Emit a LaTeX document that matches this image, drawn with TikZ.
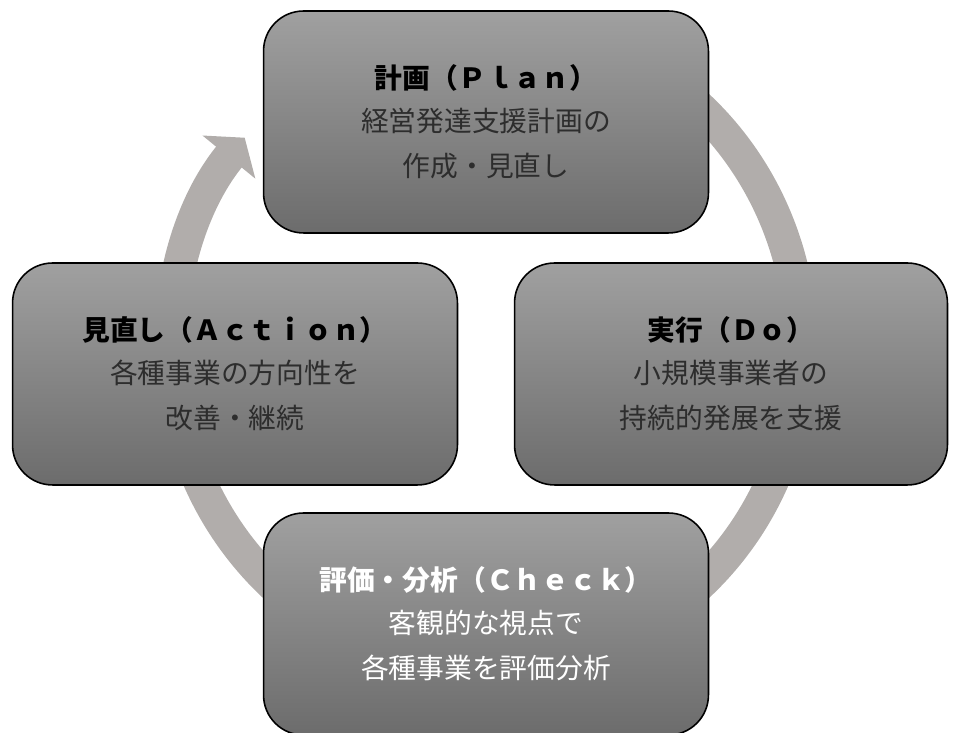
\documentclass[tikz,border=0pt]{standalone}
\usepackage{fontspec}
\setmainfont{Noto Sans CJK JP}
\usetikzlibrary{arrows.meta}

\definecolor{ringgray}{RGB}{177,173,171}
\definecolor{boxtop}{RGB}{160,160,160}
\definecolor{boxbottom}{RGB}{108,108,108}
\definecolor{bodytext}{RGB}{45,45,45}

\begin{document}
\begin{tikzpicture}[x=0.02cm, y=0.02cm,
  phase/.style={draw=black, line width=0.9pt, rounded corners=0.8cm,
    top color=boxtop, bottom color=boxbottom,
    minimum width=8.9cm, minimum height=4.44cm, inner sep=0pt,
    align=center, font=\fontsize{15.8}{26}\selectfont},
  ring/.style={ringgray, line width=0.66cm,
    -{Triangle[width=1.34cm, length=0.5cm]}}]

\useasboundingbox (0,0) rectangle (954,733);

% Cycle ring, clockwise, behind the boxes
\draw[ring] (486,387) ++(70:315 and 324)
  arc[start angle=70, end angle=-220, x radius=315, y radius=324];

% Plan
\node[phase] (plan) at (486,611)
  {\textbf{計画（Ｐｌａｎ）}\\[-2pt]
   \textcolor{bodytext}{経営発達支援計画の}\\
   \textcolor{bodytext}{作成・見直し}};

% Do
\node[phase, minimum width=8.66cm] (do) at (731,359)
  {\textbf{実行（Ｄｏ）}\\[-2pt]
   \textcolor{bodytext}{小規模事業者の}\\
   \textcolor{bodytext}{持続的発展を支援}};

% Check
\node[phase, text=white] (check) at (486,109)
  {\textbf{評価・分析（Ｃｈｅｃｋ）}\\[-2pt]
   客観的な視点で\\
   各種事業を評価分析};

% Action
\node[phase] (act) at (235,359)
  {\textbf{見直し（Ａｃｔｉｏｎ）}\\[-2pt]
   \textcolor{bodytext}{各種事業の方向性を}\\
   \textcolor{bodytext}{改善・継続}};

\end{tikzpicture}
\end{document}
